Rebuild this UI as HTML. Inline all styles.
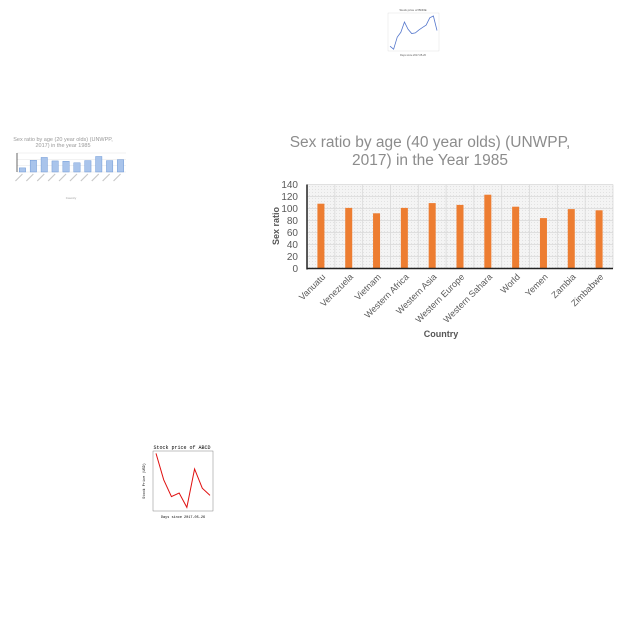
<!DOCTYPE html>
<html><head><meta charset="utf-8"><style>
html,body{margin:0;padding:0;background:#fff;}
svg{display:block;font-family:"Liberation Sans",sans-serif;}
</style></head><body>
<svg id="root" width="640" height="640" viewBox="0 0 640 640">
<defs>
<pattern id="hatch" width="3" height="3" patternUnits="userSpaceOnUse"><rect width="3" height="3" fill="#f4f4f4"/><rect width="1" height="1" fill="#e2e2e2"/></pattern>
</defs>
<g id="main">
<text x="430" y="147" text-anchor="middle" font-size="15.5" fill="#8c8c8c">Sex ratio by age (40 year olds) (UNWPP,</text>
<text x="430" y="165" text-anchor="middle" font-size="15.5" fill="#8c8c8c">2017) in the Year 1985</text>
<text transform="translate(279,226) rotate(-90)" text-anchor="middle" font-size="9" font-weight="bold" fill="#555">Sex ratio</text>
<text x="441" y="337" text-anchor="middle" font-size="9" font-weight="bold" fill="#555">Country</text>
</g>
<g id="left">
<text x="63" y="141" text-anchor="middle" font-size="5.5" fill="#999">Sex ratio by age (20 year olds) (UNWPP,</text>
<text x="63" y="147" text-anchor="middle" font-size="5.5" fill="#999">2017) in the year 1985</text>
<text x="71" y="199" text-anchor="middle" font-size="3" fill="#999">Country</text>
</g>
<g id="stock">
<text x="182" y="449" text-anchor="middle" font-size="5" font-family="Liberation Mono,monospace">Stock price of ABCD</text>
<text x="183" y="518" text-anchor="middle" font-size="3.5" font-family="Liberation Mono,monospace">Days since 2017-05-26</text>
</g>
<g id="top">
<text x="413" y="11" text-anchor="middle" font-size="3" fill="#555">Stock price of BDDE</text>
</g>
</svg>
<script>
const NS="http://www.w3.org/2000/svg";
const countries=["Vanuatu","Venezuela","Vietnam","Western Africa","Western Asia","Western Europe","Western Sahara","World","Yemen","Zambia","Zimbabwe"];
const ratios=[108,101,92,101,109,106,123,103,84,99,97];
const yTicks=[0,20,40,60,80,100,120,140];
const smallValues=[93,117,126,115,114,109,116,129,116,119];
const smallTicks=[80,100,120,140];
const stockDays=[0,1,2,3,4,5,6,7];
const stockPrices=[100.4,98.2,96.8,97.1,95.9,99.1,97.5,96.9];
const topPrices=[10.3,9.8,11.8,12.6,14.3,13.1,12.4,12.5,13.0,13.4,13.8,15.0,15.3,12.9];
function mk(t,a,p,txt){const e=document.createElementNS(NS,t);for(const k in a)e.setAttribute(k,a[k]);if(txt!==undefined)e.textContent=txt;p.appendChild(e);return e;}
const M=document.getElementById('main');
const x0=307,x1=613,yb=268.5,yt=184.5,ymax=140;
const bw=(x1-x0)/countries.length;
const ys=v=>yb-(v/ymax)*(yb-yt);
const bg=mk('rect',{x:x0,y:yt,width:x1-x0,height:yb-yt,fill:'url(#hatch)'},M);


yTicks.forEach(t=>{
 const l=mk('line',{x1:x0,x2:x1,y1:ys(t),y2:ys(t),stroke:'#d9d9d9','stroke-width':0.8},M);
 
 
 const tx=mk('text',{x:x0-9,y:ys(t)+3.5,'text-anchor':'end','font-size':10,fill:'#595959'},M,t);
 
 
});
countries.forEach((c,i)=>{
 const gx=x0+(i+1)*bw;
 const g=mk('line',{x1:gx,x2:gx,y1:yt,y2:yb,stroke:'#d9d9d9','stroke-width':0.8},M);
 
 
 const cx=x0+(i+0.5)*bw;
 const r=mk('rect',{x:cx-3.5,y:ys(ratios[i]),width:7,height:yb-ys(ratios[i]),fill:'#ed7d31'},M);
 
 
 const t=mk('text',{x:cx+5,y:yb+9,'text-anchor':'end','font-size':9,fill:'#595959',transform:`rotate(-45 ${cx+5} ${yb+9})`},M,c);
 
 
});
const ax=mk('line',{x1:x0,x2:x0,y1:yt,y2:yb+1,stroke:'#222','stroke-width':1.5},M);


const axx=mk('line',{x1:x0,x2:x1,y1:yb,y2:yb,stroke:'#222','stroke-width':1.5},M);


const L=document.getElementById('left');
const sx0=17,sx1=126,syb=172,syt=153,smin=80,smax=140;
const sys=v=>syb-(v-smin)/(smax-smin)*(syb-syt);
smallTicks.forEach(t=>{
 const l=mk('line',{x1:sx0,x2:sx1,y1:sys(t),y2:sys(t),stroke:'#e4e4e4','stroke-width':0.5},L);
 
 
});
const sw=(sx1-sx0)/smallValues.length;
smallValues.forEach((v,i)=>{
 const cx=sx0+(i+0.5)*sw;
 const r=mk('rect',{x:cx-3.2,y:sys(v),width:6.4,height:syb-sys(v),fill:'#a9c4eb',stroke:'#5b8bd0','stroke-width':0.4},L);
 
 
 const tl=mk('line',{x1:cx,y1:syb+2,x2:cx-7,y2:syb+9,stroke:'#c8c8c8','stroke-width':1.2},L);
 
 
});
const la=mk('line',{x1:sx0,x2:sx0,y1:syt,y2:syb,stroke:'#444','stroke-width':0.8},L);


const S=document.getElementById('stock');
const kx0=153,kx1=213,kyt=451,kyb=511;
const frame=mk('rect',{x:kx0,y:kyt,width:kx1-kx0,height:kyb-kyt,fill:'none',stroke:'#666','stroke-width':0.4},S);


const pmin=95.6,pmax=100.6;
const kxs=d=>kx0+3+d/7*(kx1-kx0-6), kys=p=>kyb-(p-pmin)/(pmax-pmin)*(kyb-kyt);
const sl=mk('polyline',{points:stockDays.map((d,i)=>kxs(d)+','+kys(stockPrices[i])).join(' '),fill:'none',stroke:'#e01010','stroke-width':1},S);


const yl=mk('text',{transform:`translate(145,481) rotate(-90)`,'text-anchor':'middle','font-size':3.5,'font-family':'Liberation Mono,monospace'},S,'Stock Price (USD)');


const T=document.getElementById('top');
const tx0=388,tx1=439,tyt=13,tyb=51;
const tf=mk('rect',{x:tx0,y:tyt,width:tx1-tx0,height:tyb-tyt,fill:'none',stroke:'#ccc','stroke-width':0.3},T);


const tmin=9.5,tmax=15.8;
const txs=i=>tx0+2+i/(topPrices.length-1)*(tx1-tx0-4), tys=p=>tyb-(p-tmin)/(tmax-tmin)*(tyb-tyt);
const tl2=mk('polyline',{points:topPrices.map((p,i)=>txs(i)+','+tys(p)).join(' '),fill:'none',stroke:'#5577cc','stroke-width':0.8},T);


const tt=mk('text',{x:413,y:56,'text-anchor':'middle','font-size':2.5,fill:'#555'},T,'Days since 2017-05-26');


</script>
</body></html>
